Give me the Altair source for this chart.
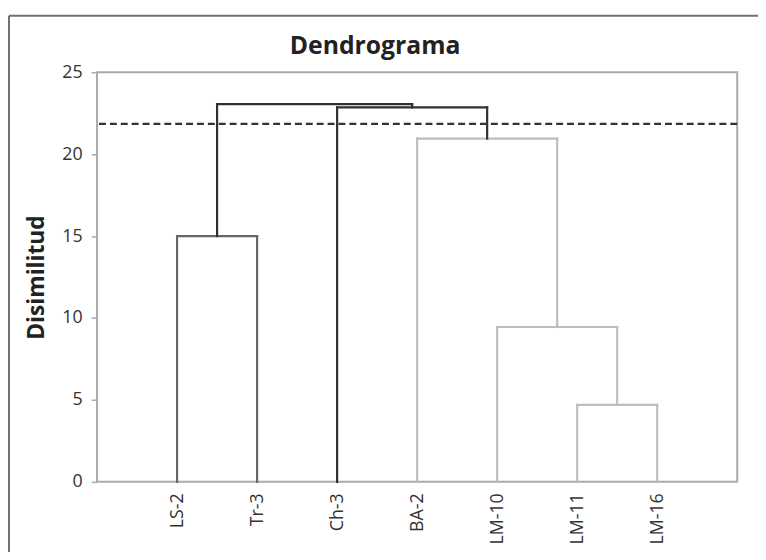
import altair as alt
import pandas as pd

# Leaves in display order
leaves = ["LS-2", "Tr-3", "Ch-3", "BA-2", "LM-10", "LM-11", "LM-16"]
# Merges (node ids: 0..6 leaves, 7.. merges in order)
merge_left = [0, 5, 4, 3, 2, 7]
merge_right = [1, 6, 8, 9, 10, 11]
merge_height = [15.0, 4.7, 9.45, 20.95, 22.85, 23.05]
merge_group = ["A", "B", "B", "B", "top", "top"]
cut_height = 21.85
y_ticks = [0, 5, 10, 15, 20, 25]
title_text = "Dendrograma"

# Build dendrogram link segments
node_x = [i + 1 for i in range(len(leaves))]
node_h = [0.0 for _ in leaves]
rows = []
for l, r, h, g in zip(merge_left, merge_right, merge_height, merge_group):
    xl, xr = node_x[l], node_x[r]
    rows.append({"x": xl, "x2": xl, "y": node_h[l], "y2": h, "g": g})
    rows.append({"x": xl, "x2": xr, "y": h, "y2": h, "g": g})
    rows.append({"x": xr, "x2": xr, "y": node_h[r], "y2": h, "g": g})
    node_x.append((xl + xr) / 2)
    node_h.append(h)
links = pd.DataFrame(rows)

FONT = "Open Sans"
label_expr = "[" + ",".join(f"'{s}'" for s in leaves) + "][datum.value - 1]"

x_scale = alt.Scale(domain=[0, len(leaves) + 1], nice=False, zero=False)
y_scale = alt.Scale(domain=[0, 25], nice=False)

link_chart = alt.Chart(links).mark_rule(strokeWidth=2.2, strokeCap="square").encode(
    x=alt.X("x:Q", scale=x_scale,
            axis=alt.Axis(values=list(range(1, len(leaves) + 1)), labelExpr=label_expr,
                          ticks=False, domain=False, grid=False, labelAngle=270,
                          labelFontSize=18, labelColor="#333", labelFont=FONT,
                          labelPadding=11, title=None)),
    x2="x2:Q",
    y=alt.Y("y:Q", scale=y_scale,
            axis=alt.Axis(values=y_ticks, grid=False, domain=False, tickColor="#aaaaaa",
                          tickSize=6, tickWidth=1.5, labelFontSize=18, labelColor="#333",
                          labelFont=FONT, labelPadding=9, title="Disimilitud",
                          titleFontSize=23, titleFont=FONT, titleFontWeight="bold",
                          titleColor="#222", titlePadding=14)),
    y2="y2:Q",
    color=alt.Color("g:N", scale=alt.Scale(domain=["A", "B", "top"],
                                           range=["#666666", "#bdbdbd", "#303030"]),
                    legend=None),
)

cut = alt.Chart(pd.DataFrame({"y": [cut_height]})).mark_rule(
    strokeDash=[7, 4], color="#333333", strokeWidth=2.2
).encode(y=alt.Y("y:Q", scale=y_scale))

frame_df = pd.DataFrame({"a": [0]})
frame_top = alt.Chart(frame_df).mark_rule(color="#707070", strokeWidth=2, clip=False).encode(
    x=alt.value(-89), x2=alt.value(700), y=alt.value(-57))
frame_left = alt.Chart(frame_df).mark_rule(color="#707070", strokeWidth=2, clip=False).encode(
    x=alt.value(-89), y=alt.value(-57), y2=alt.value(500))

title_mark = alt.Chart(pd.DataFrame({"t": [title_text]})).mark_text(
    font=FONT, fontSize=25, fontWeight="bold", color="#222", align="center",
    baseline="alphabetic", clip=False
).encode(text="t:N", x=alt.value(281), y=alt.value(-18))

chart = alt.layer(frame_top, frame_left, link_chart, cut, title_mark).properties(
    width=647, height=414,
    autosize=alt.AutoSizeParams(type="none"),
    padding={"left": 90, "top": 62, "right": 21, "bottom": 68},
).configure_view(stroke="#aaaaaa", strokeWidth=2)

chart.save("out.html", embed_options={"renderer": "svg", "actions": False})
